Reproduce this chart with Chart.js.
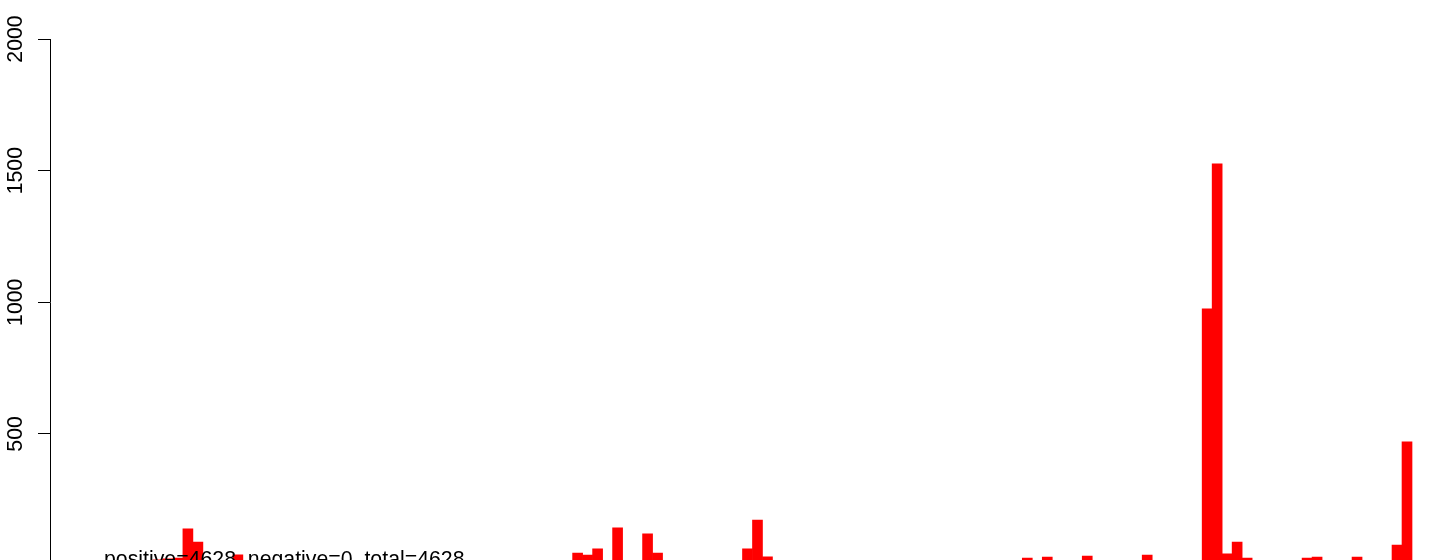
<!DOCTYPE html>
<html>
<head>
<meta charset="utf-8">
<title>barplot</title>
<script src="https://cdn.jsdelivr.net/npm/chart.js@4.4.1/dist/chart.umd.min.js"></script>
<style>
  html, body { margin: 0; padding: 0; background: #fff; overflow: hidden; }
  canvas { display: block; }
</style>
</head>
<body>
<canvas id="grafico" width="1429" height="600"></canvas>
<script>
// contagens por bin (131 bins)
const contagens = [
    0, 0, 0, 0, 0, 22, 25, 28, 139, 89,
    0, 0, 0, 41, 0, 0, 0, 0, 0, 0,
    0, 0, 0, 0, 0, 0, 0, 0, 0, 0,
    0, 0, 0, 0, 0, 0, 0, 0, 0, 0,
    0, 0, 0, 0, 0, 0, 0, 47, 40, 63,
    0, 143, 0, 0, 120, 47, 0, 0, 0, 0,
    0, 0, 0, 0, 63, 173, 33, 0, 0, 0,
    0, 0, 0, 0, 0, 0, 0, 0, 0, 0,
    0, 0, 0, 0, 0, 0, 0, 0, 0, 0,
    0, 0, 28, 0, 32, 0, 0, 0, 36, 0,
    0, 0, 0, 0, 40, 0, 0, 0, 0, 0,
    975, 1526, 44, 89, 28, 0, 0, 0, 0, 0,
    28, 32, 0, 0, 0, 32, 0, 0, 0, 78,
    470
];
const bins = contagens.map((_, i) => i + 1);
const ticksY = [0, 500, 1000, 1500, 2000];
const resumo = "positive=4628, negative=0, total=4628";

const fonte = '"Liberation Sans", Arial, Helvetica, sans-serif';

// texto de resumo por cima das barras
const textoResumo = {
    id: 'textoResumo',
    afterDatasetsDraw(chart) {
        const { ctx, scales } = chart;
        const x = scales.x.getPixelForValue(bins[0] - 0.5) + 1;
        const y = scales.y.getPixelForValue(0);
        ctx.save();
        ctx.font = '21.3px ' + fonte;
        ctx.fillStyle = '#000';
        ctx.textAlign = 'left';
        ctx.textBaseline = 'alphabetic';
        ctx.fillText(resumo, x, y);
        ctx.restore();
    }
};

const ctx = document.getElementById("grafico").getContext("2d");
new Chart(ctx, {
    type: "bar",
    data: {
        datasets: [{
            data: bins.map((b, i) => ({ x: b, y: contagens[i] })),
            backgroundColor: "#ff0000",
            borderWidth: 0,
            barPercentage: 1,
            categoryPercentage: 1
        }]
    },
    options: {
        responsive: false,
        animation: false,
        devicePixelRatio: 1,
        layout: {
            padding: { top: 39, bottom: 34.5, left: 0, right: 0 }
        },
        plugins: {
            legend: { display: false },
            tooltip: { enabled: false }
        },
        scales: {
            x: {
                type: 'linear',
                display: false,
                offset: false,
                min: -4.8,
                max: 133.2
            },
            y: {
                min: 0,
                max: 2000,
                afterBuildTicks: (scale) => {
                    scale.ticks = ticksY.map(v => ({ value: v }));
                },
                afterFit: (scale) => {
                    scale.width = 50;
                },
                border: { display: true, color: '#000', width: 1 },
                grid: {
                    display: true,
                    drawOnChartArea: false,
                    drawTicks: true,
                    tickLength: 12,
                    tickColor: '#000',
                    tickWidth: 1
                },
                ticks: {
                    color: '#000',
                    font: { family: fonte, size: 21.3 },
                    minRotation: 90,
                    maxRotation: 90,
                    crossAlign: 'center',
                    padding: -2,
                    callback: (v) => String(v)
                }
            }
        }
    },
    plugins: [textoResumo]
});
</script>
</body>
</html>
